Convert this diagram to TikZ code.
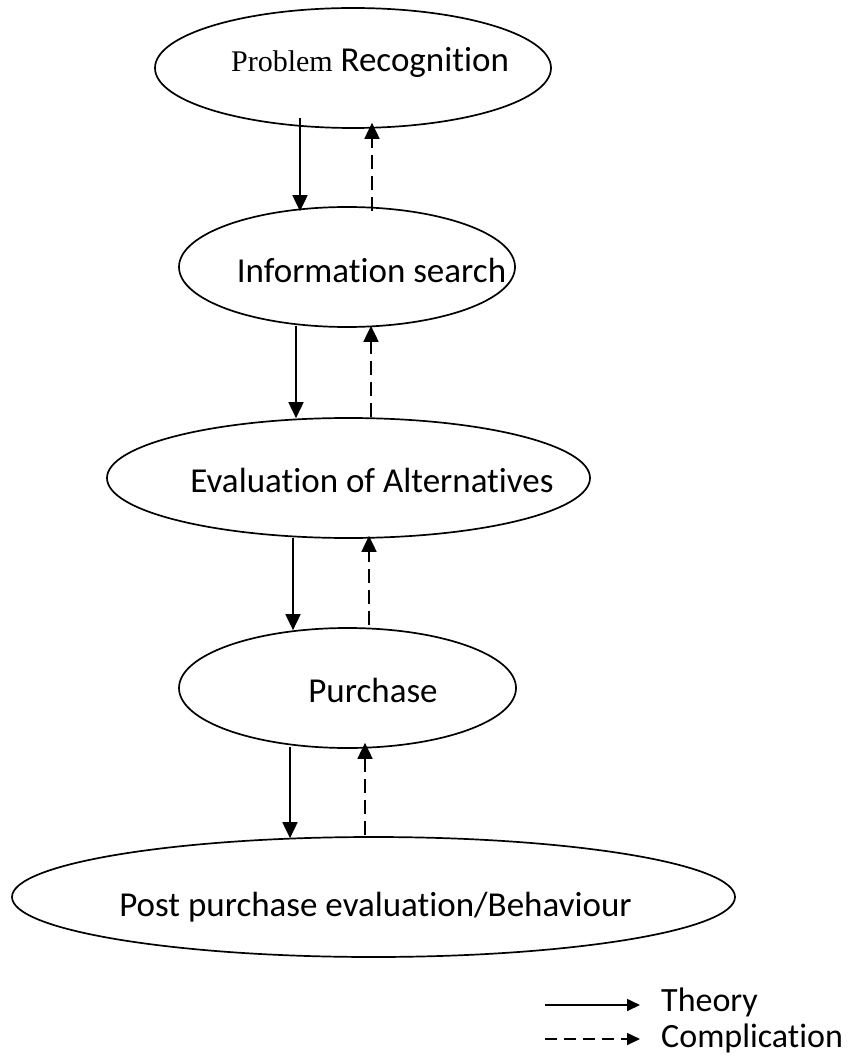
\documentclass[tikz,border=0pt]{standalone}
\usepackage{fontspec}
\setmainfont[Ligatures=NoCommon]{Carlito}
\newfontfamily\probfont{Liberation Serif}
\usetikzlibrary{shapes.geometric,arrows.meta}
\tikzset{
  stage/.style={draw=black, line width=1.7pt, ellipse, inner sep=0pt},
  stagetext/.style={inner sep=0pt, anchor=base, font=\fontsize{35}{42}\selectfont},
  legtext/.style={inner sep=0pt, anchor=base west, font=\fontsize{34}{40}\selectfont},
  theory/.style={line width=1.8pt, -{Triangle[length=16pt,width=15pt]}},
  compl/.style={line width=1.8pt, dash pattern=on 14pt off 7pt, -{Triangle[length=16pt,width=15pt]}},
  legtheory/.style={line width=1.6pt, -{Triangle[length=13pt,width=12pt]}},
  legcompl/.style={line width=1.6pt, dash pattern=on 12pt off 7pt, -{Triangle[length=13pt,width=12pt]}}
}
\begin{document}
\begin{tikzpicture}[x=1pt,y=-1pt]
\useasboundingbox (0,0) rectangle (849,1059);
% ellipses
\node[stage, minimum width=396pt, minimum height=120pt] (e1) at (353,68) {};
\node[stage, minimum width=336pt, minimum height=120pt] (e2) at (347,267) {};
\node[stage, minimum width=483pt, minimum height=120pt] (e3) at (348.5,478) {};
\node[stage, minimum width=337pt, minimum height=120pt] (e4) at (347.5,688) {};
\node[stage, minimum width=723pt, minimum height=120pt] (e5) at (373.5,897) {};
% texts
\node[stagetext] (t1) at (370,72) {{\fontsize{30}{36}\probfont Problem} Recognition};
\node[stagetext] (t2) at (371.5,282) {Information search};
\node[stagetext] (t3) at (372,492) {Evaluation of Alternatives};
\node[stagetext] (t4) at (373,702) {Purchase};
\node[stagetext] (t5) at (375.5,916) {Post purchase evaluation/Behaviour};
% connectors
\draw[theory] ([xshift=-53pt,yshift=11pt]e1.south) -- ([xshift=-47pt,yshift=-5pt]e2.north);
\draw[compl] ([xshift=25pt,yshift=-5pt]e2.north) -- ([xshift=19pt,yshift=6pt]e1.south);
\draw[theory] ([xshift=-51pt,yshift=2pt]e2.south) -- ([xshift=-52.5pt,yshift=-1pt]e3.north);
\draw[compl] ([xshift=22.5pt]e3.north) -- ([xshift=24pt,yshift=2pt]e2.south);
\draw[theory] ([xshift=-55.5pt,yshift=1pt]e3.south) -- ([xshift=-54.5pt,yshift=-3pt]e4.north);
\draw[compl] ([xshift=21.5pt,yshift=2pt]e4.north) -- ([xshift=20.5pt,yshift=3pt]e3.south);
\draw[theory] ([xshift=-57.5pt,yshift=2pt]e4.south) -- ([xshift=-83.5pt,yshift=-2pt]e5.north);
\draw[compl] ([xshift=-8.5pt,yshift=1pt]e5.north) -- ([xshift=17.5pt,yshift=6pt]e4.south);
% legend
\coordinate (ls1) at (545,1005);
\coordinate (le1) at (640,1005);
\coordinate (ls2) at (545,1039);
\coordinate (le2) at (640,1039);
\node[legtext] (lt) at (661,1011) {Theory};
\node[legtext] (lc) at (661,1047) {Complication};
\draw[legtheory] (ls1) -- (le1);
\draw[legcompl] (ls2) -- (le2);
\end{tikzpicture}
\end{document}
